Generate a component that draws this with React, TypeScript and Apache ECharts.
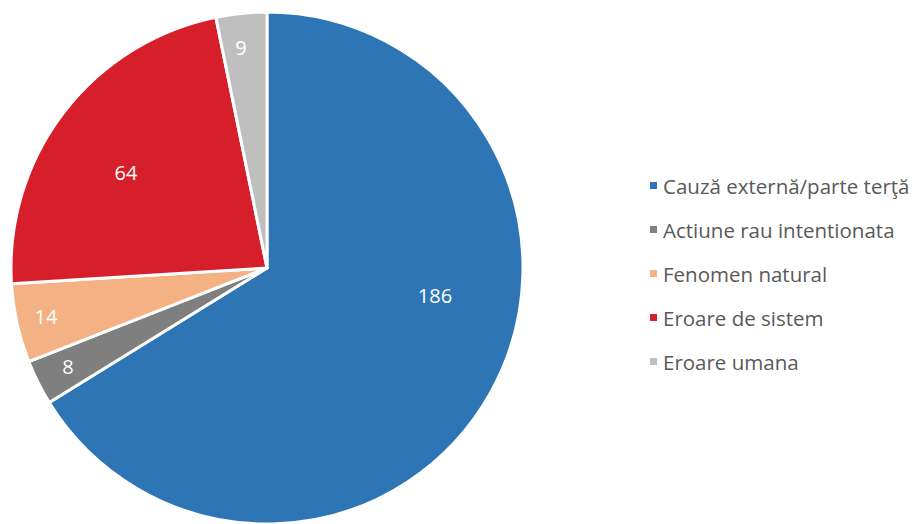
import React, { useEffect, useRef } from "react";
import * as echarts from "echarts";

const categories = [
  "Cauză externă/parte terţă",
  "Actiune rau intentionata",
  "Fenomen natural",
  "Eroare de sistem",
  "Eroare umana",
];
const values = [186, 8, 14, 64, 9];
const colors = ["#2E75B6", "#7F7F7F", "#F4B183", "#D71F2B", "#BFBFBF"];
// label anchor offsets from the pie centre (pixels), mimicking Excel's best-fit placement
const labelOffsets: [number, number][] = [
  [168, 27],
  [-199, 98],
  [-221, 48],
  [-141, -96],
  [-26, -221],
];

const CX = 267;
const CY = 268;
const R = 256;

export default function App() {
  const ref = useRef<HTMLDivElement>(null);
  useEffect(() => {
    document.body.style.margin = "0";
    const chart = echarts.init(ref.current!, null, { renderer: "svg" });
    chart.setOption({
      animation: false,
      backgroundColor: "#ffffff",
      legend: {
        orient: "vertical",
        left: 643,
        top: 170,
        itemWidth: 9,
        itemHeight: 9,
        itemGap: 23,
        icon: "rect",
        textStyle: {
          color: "#595959",
          fontSize: 20.5,
          fontFamily: "Open Sans",
          lineHeight: 21,
          padding: [0, 0, 0, 0],
        },
        data: categories,
      },
      series: [
        {
          type: "pie",
          center: [CX, CY],
          radius: [0, R],
          startAngle: 90,
          clockwise: true,
          color: colors,
          itemStyle: { borderColor: "#ffffff", borderWidth: 3 },
          label: {
            show: true,
            position: "inside",
            color: "#ffffff",
            fontSize: 20,
            fontFamily: "Open Sans",
            formatter: "{c}",
          },
          labelLine: { show: false },
          labelLayout: (p: any) => {
            const o = labelOffsets[p.dataIndex];
            return {
              x: CX + o[0],
              y: CY + o[1],
              align: "center",
              verticalAlign: "middle",
            };
          },
          emphasis: { disabled: true },
          data: categories.map((name, i) => ({ name, value: values[i] })),
        },
      ],
    });
    return () => chart.dispose();
  }, []);
  return <div ref={ref} style={{ width: 917, height: 524 }} />;
}
